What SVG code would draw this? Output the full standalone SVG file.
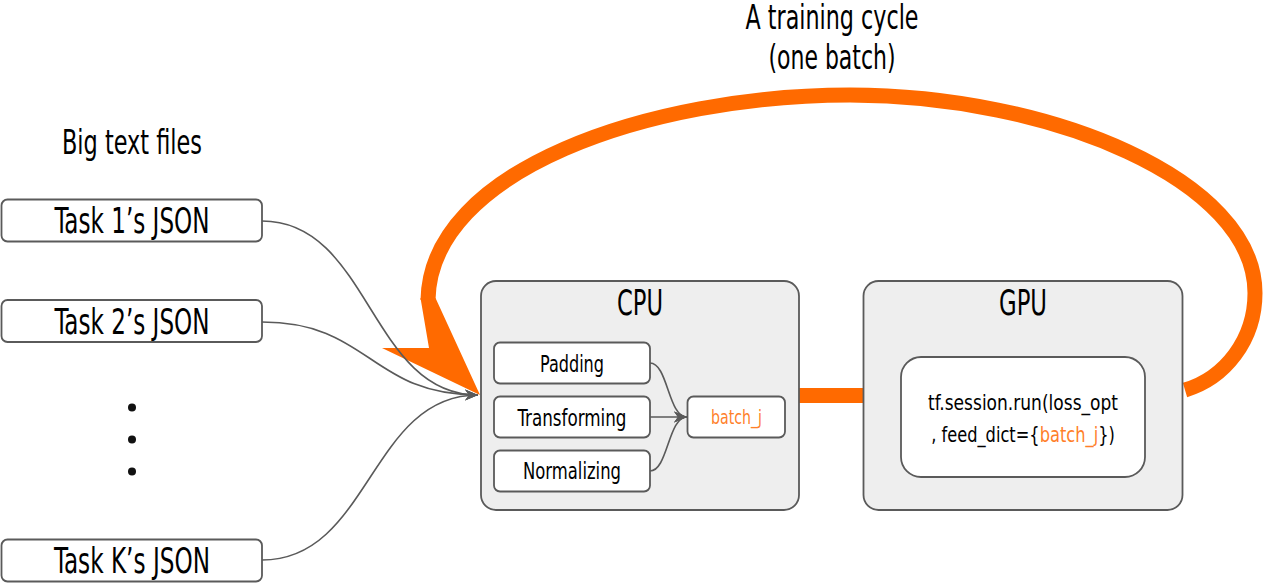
<svg xmlns="http://www.w3.org/2000/svg" width="1271" height="583" viewBox="0 0 1271 583">
<style>
text{font-family:"DejaVu Sans","Liberation Sans",sans-serif;font-stretch:condensed;fill:#000;text-anchor:middle}
.box{fill:#ffffff;stroke:#5a5a5a;stroke-width:1.8}
.big{fill:#eeeeee;stroke:#5a5a5a;stroke-width:1.8}
.conn{fill:none;stroke:#5a5a5a;stroke-width:1.6}
.orange{fill:none;stroke:#ff6a00;stroke-width:15}
.or{fill:#ff7f2a}
</style>
<defs>
<marker id="ah" markerWidth="14" markerHeight="12" refX="13" refY="6" orient="auto" markerUnits="userSpaceOnUse">
<path d="M0,0.5 L13,6 L0,11.5 L4,6 z" fill="#5a5a5a"/>
</marker>
</defs>
<rect width="1271" height="583" fill="#ffffff"/>
<text x="832" y="29" font-size="33" textLength="173" lengthAdjust="spacingAndGlyphs">A training cycle</text>
<text x="832" y="69" font-size="33" textLength="127" lengthAdjust="spacingAndGlyphs">(one batch)</text>
<text x="132" y="154" font-size="34" textLength="140" lengthAdjust="spacingAndGlyphs">Big text files</text>
<g id="loop">
<path class="orange" d="M1185,390 C1225,378 1255,340 1255,293 C1255,180 1050,95 850,95 C650,95 430,170 428,300"/>
<polygon points="420.5,298 435.5,298 480,395 382,348 429,348" fill="#ff6a00"/>
<path class="orange" d="M799,395.5 L863,395.5"/>
</g>
<g id="task1"><rect class="box" x="1.5" y="199.5" width="260.5" height="42" rx="6"/><text x="132" y="233" font-size="35" textLength="155" lengthAdjust="spacingAndGlyphs">Task 1’s JSON</text></g>
<g id="task2"><rect class="box" x="1.5" y="300" width="260.5" height="42" rx="6"/><text x="132" y="334" font-size="35" textLength="155" lengthAdjust="spacingAndGlyphs">Task 2’s JSON</text></g>
<g id="dots"><circle cx="132" cy="407.5" r="4" fill="#111"/><circle cx="132" cy="439.5" r="4" fill="#111"/><circle cx="132" cy="471.5" r="4" fill="#111"/></g>
<g id="taskK"><rect class="box" x="1.5" y="539.5" width="260.5" height="42" rx="6"/><text x="132" y="573" font-size="35" textLength="156" lengthAdjust="spacingAndGlyphs">Task K’s JSON</text></g>
<g id="cpu"><rect class="big" x="481" y="281" width="318" height="229" rx="15"/><text x="640" y="315" font-size="36" textLength="46" lengthAdjust="spacingAndGlyphs">CPU</text></g>
<g id="padding"><rect class="box" x="494" y="342.5" width="156" height="41" rx="6"/><text x="572" y="372" font-size="23" textLength="64" lengthAdjust="spacingAndGlyphs">Padding</text></g>
<g id="transforming"><rect class="box" x="494" y="396.5" width="156" height="41" rx="6"/><text x="572" y="426" font-size="23" textLength="109" lengthAdjust="spacingAndGlyphs">Transforming</text></g>
<g id="normalizing"><rect class="box" x="494" y="450.5" width="156" height="41" rx="6"/><text x="572" y="479" font-size="23" textLength="98" lengthAdjust="spacingAndGlyphs">Normalizing</text></g>
<g id="batch"><rect class="box" x="687.5" y="396.5" width="97.5" height="41" rx="6"/><text x="736.5" y="424" font-size="19" class="or" textLength="51" lengthAdjust="spacingAndGlyphs">batch_j</text></g>
<g id="gpu"><rect class="big" x="863.5" y="281" width="319" height="229" rx="15"/><text x="1023" y="315" font-size="36" textLength="48" lengthAdjust="spacingAndGlyphs">GPU</text></g>
<g id="run"><rect class="box" x="901" y="357" width="244" height="120" rx="20"/>
<text x="1023" y="410" font-size="21" textLength="190" lengthAdjust="spacingAndGlyphs">tf.session.run(loss_opt</text>
<text transform="translate(1023 442) scale(0.86 1)" x="0" y="0" font-size="21">, feed_dict={<tspan class="or">batch_j</tspan>})</text></g>
<g id="connectors">
<path class="conn" d="M262,221 C370,221 370,395 478,395" marker-end="url(#ah)"/>
<path class="conn" d="M262,322 C370,322 370,395 478,395" marker-end="url(#ah)"/>
<path class="conn" d="M262,560 C370,560 370,395 478,395" marker-end="url(#ah)"/>
<path class="conn" d="M650,363 C668,363 668,417 687,417" marker-end="url(#ah)"/>
<path class="conn" d="M650,417 L687,417" marker-end="url(#ah)"/>
<path class="conn" d="M650,471 C668,471 668,417 687,417" marker-end="url(#ah)"/>
</g>
</svg>
